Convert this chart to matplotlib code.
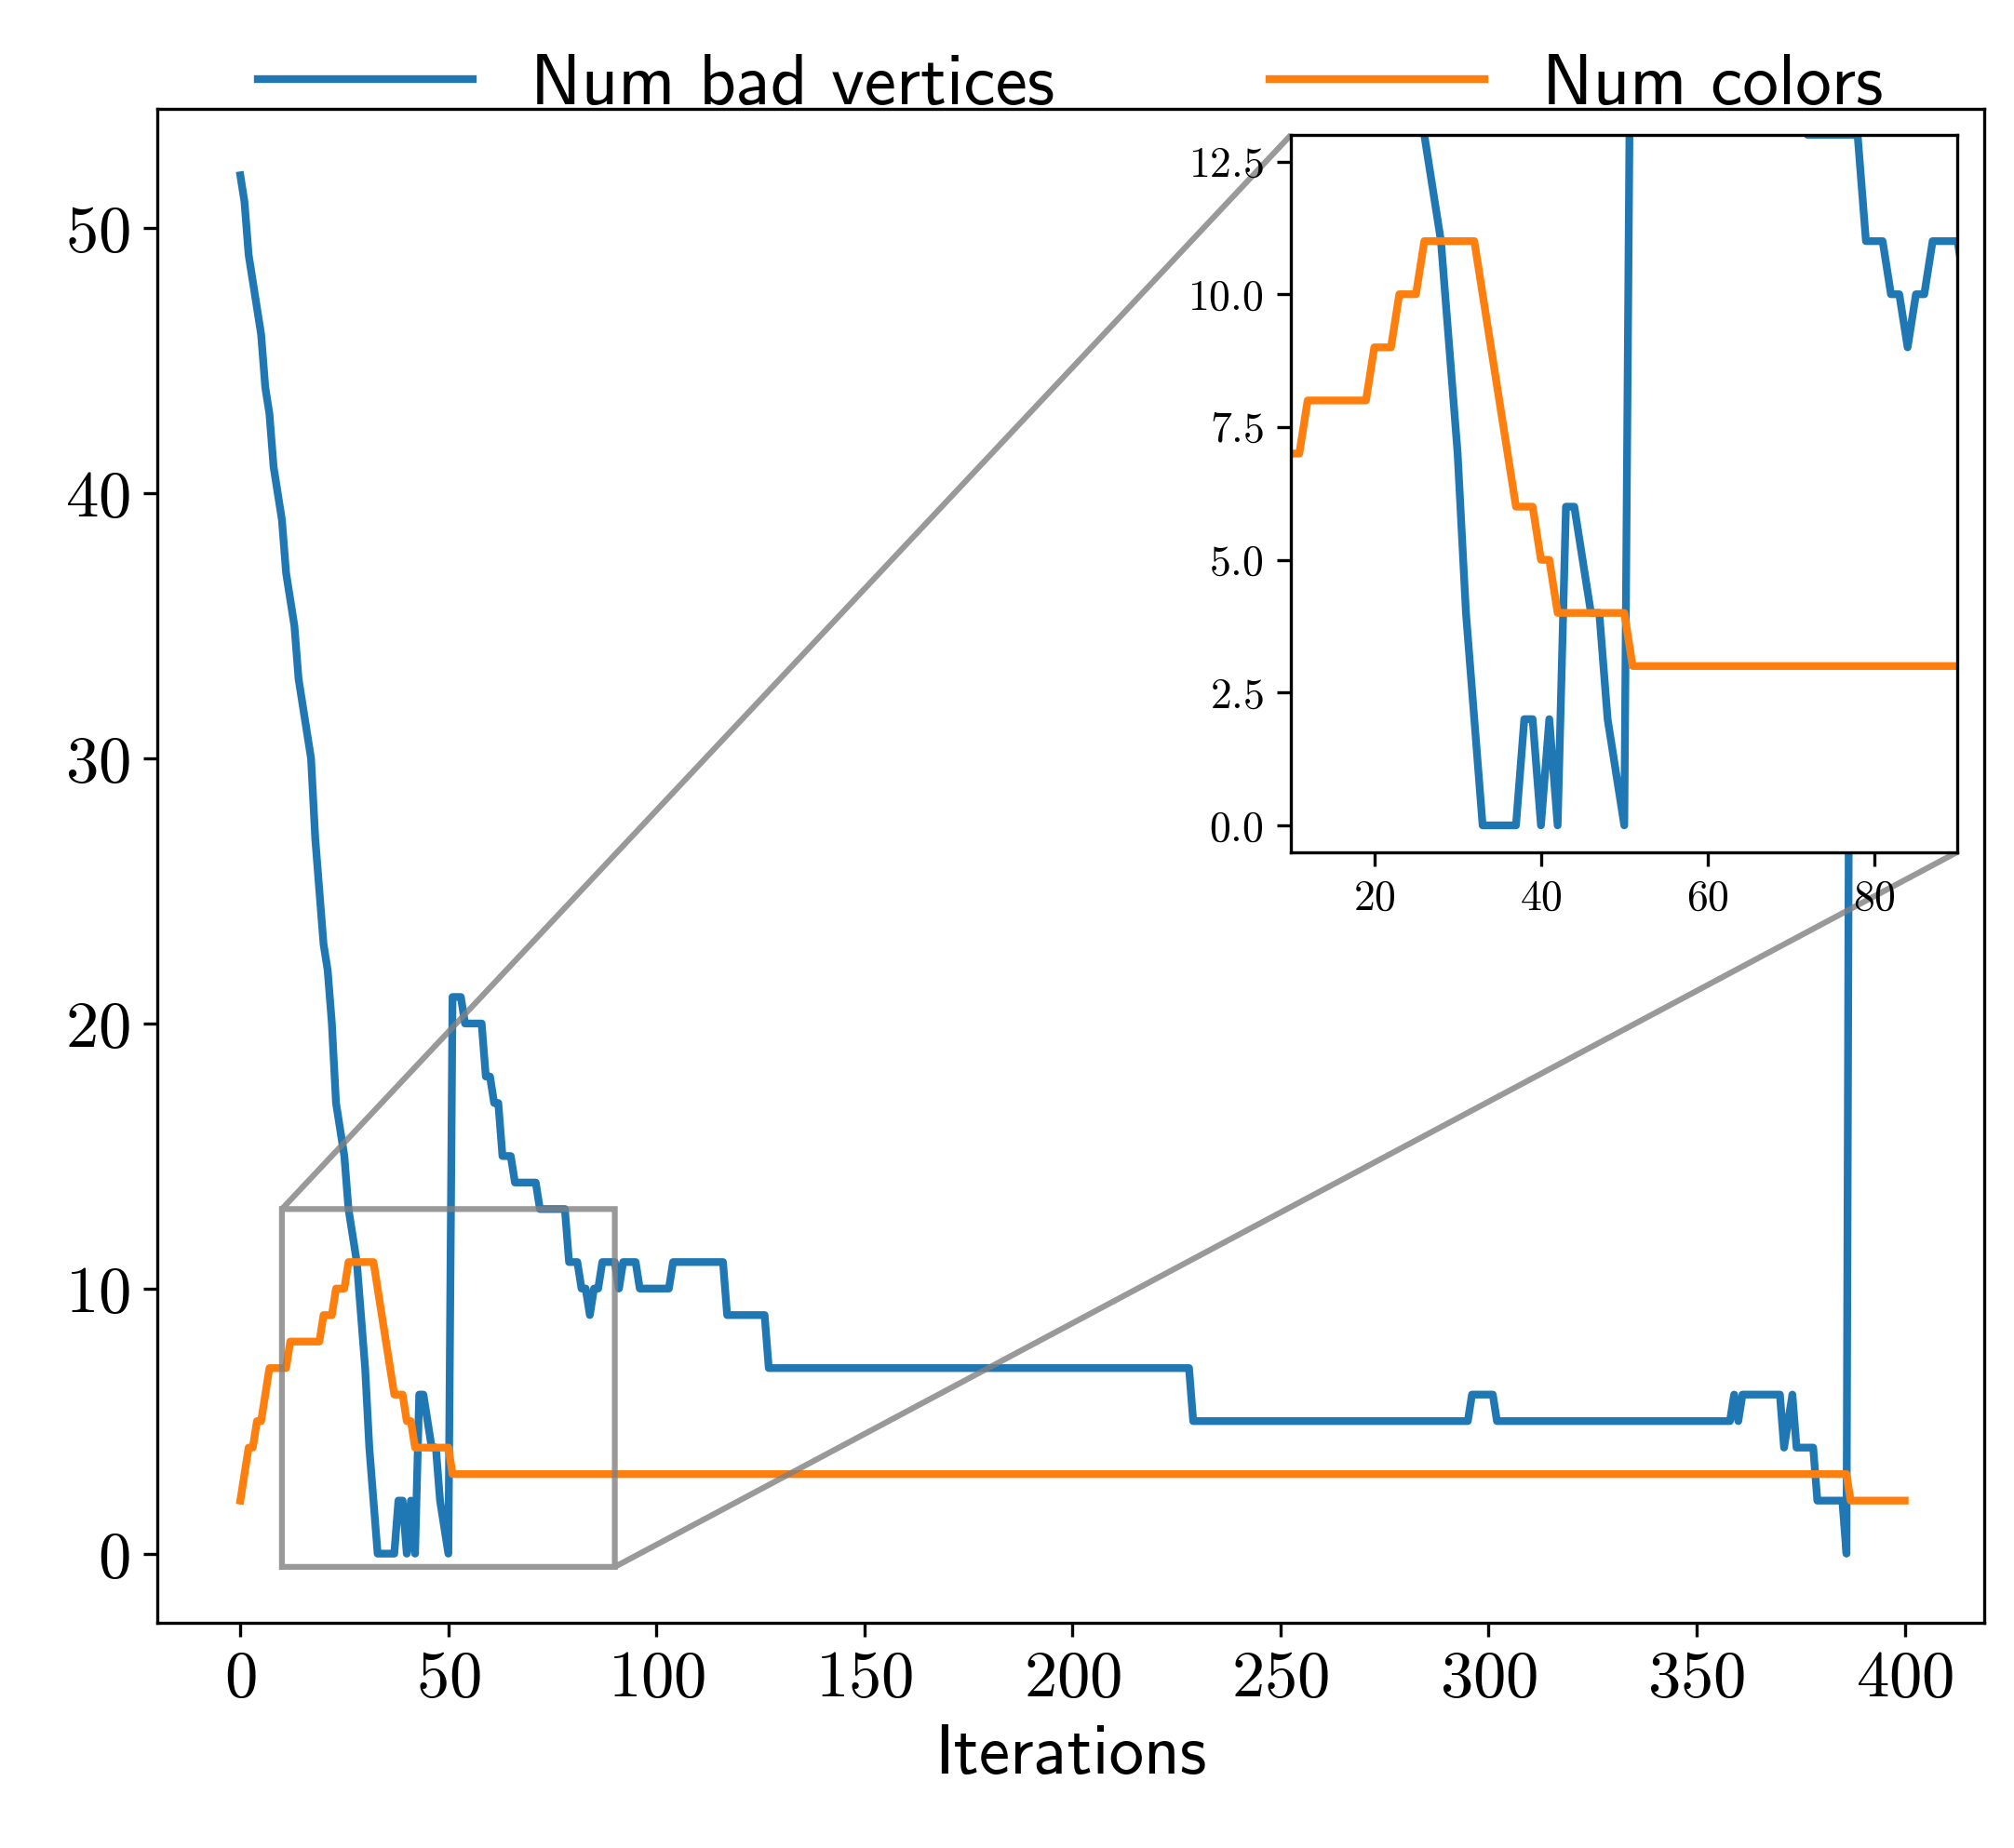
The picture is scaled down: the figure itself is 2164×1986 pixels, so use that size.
import matplotlib
matplotlib.use("Agg")
import matplotlib.pyplot as plt
import numpy as np

plt.rcParams["font.family"] = "serif"
plt.rcParams["font.serif"] = ["cmr10"]
plt.rcParams["axes.formatter.use_mathtext"] = True
plt.rcParams["mathtext.fontset"] = "cm"

bad_start = [52, 51, 49, 48, 47, 46, 44, 43, 41, 40, 39, 37, 36, 35, 33, 32, 31, 30, 27, 25,
             23, 22, 20, 17, 16, 15, 13, 12, 11, 9, 7, 4, 2, 0, 0, 0, 0, 0, 2, 2,
             0, 2, 0, 6, 6, 5, 4, 4, 2, 1, 0, 21, 21, 21, 20, 20, 20, 20, 20, 18,
             18, 17, 17, 15, 15, 15, 14, 14, 14, 14, 14, 14, 13, 13, 13, 13, 13, 13, 13, 11,
             11, 11, 10, 10, 9, 10, 10, 11, 11, 11, 11, 10, 11, 11, 11, 11, 10]
bad_segments = [(10, 103), (11, 116), (9, 126), (7, 228), (5, 295), (6, 301), (5, 358), (6, 359), (5, 360),
                (6, 370), (4, 371), (5, 372), (6, 373), (4, 378), (2, 385), (0, 386), (50, 387)]

colors_start = [2, 3, 4, 4, 5, 5, 6, 7, 7, 7, 7, 7, 8, 8, 8, 8, 8, 8, 8, 8,
                9, 9, 9, 10, 10, 10, 11, 11, 11, 11, 11, 11, 11, 10, 9, 8, 7, 6, 6, 6,
                5, 5, 4, 4, 4, 4, 4, 4, 4, 4, 4]
colors_segments = [(3, 386), (2, 400)]

def expand(start, segs):
    vals = list(start)
    for v, end in segs:
        while len(vals) <= end:
            vals.append(v)
    return np.array(vals, dtype=float)

bad = expand(bad_start, bad_segments)
cols = expand(colors_start, colors_segments)
xb = np.arange(len(bad))
xc = np.arange(len(cols))

fig = plt.figure(figsize=(2164/300, 1986/300), dpi=300)
ax = fig.add_axes([0.078, 0.122, 0.907, 0.819])
l1, = ax.plot(xb, bad, color="#1f77b4", lw=2)
l2, = ax.plot(xc, cols, color="#ff7f0e", lw=2)
ax.set_xlim(-20, 419)
ax.set_ylim(-2.6, 54.5)
ax.set_xticks(range(0, 401, 50))
ax.set_yticks(range(0, 51, 10))
ax.tick_params(labelsize=17)
ax.set_xlabel("Iterations", fontsize=18, family="cmss10")
ax.legend([l1, l2], ["Num bad vertices", "Num colors"], ncol=2, frameon=False,
          loc="lower center", bbox_to_anchor=(0.5, 0.975), prop={"family": "cmss10", "size": 18.5},
          handlelength=3, columnspacing=3, borderaxespad=0)

ins = fig.add_axes([0.641, 0.539, 0.331, 0.388])
ins.plot(xb, bad, color="#1f77b4", lw=2)
ins.plot(xc, cols, color="#ff7f0e", lw=2)
ins.set_xlim(10, 90)
ins.set_ylim(-0.5, 13)
ins.set_xticks([20, 40, 60, 80])
ins.set_yticks([0, 2.5, 5, 7.5, 10, 12.5])
ins.yaxis.set_major_formatter(matplotlib.ticker.FormatStrFormatter("$%.1f$"))
ins.tick_params(labelsize=11)
ind = ax.indicate_inset_zoom(ins, edgecolor="#808080", alpha=0.8, lw=1.5)
try:
    conns = ind.connectors
except AttributeError:
    conns = ind[1]
for i, c in enumerate(conns):
    c.set_visible(i in (1, 2))

fig.savefig("out.png", dpi=300)
